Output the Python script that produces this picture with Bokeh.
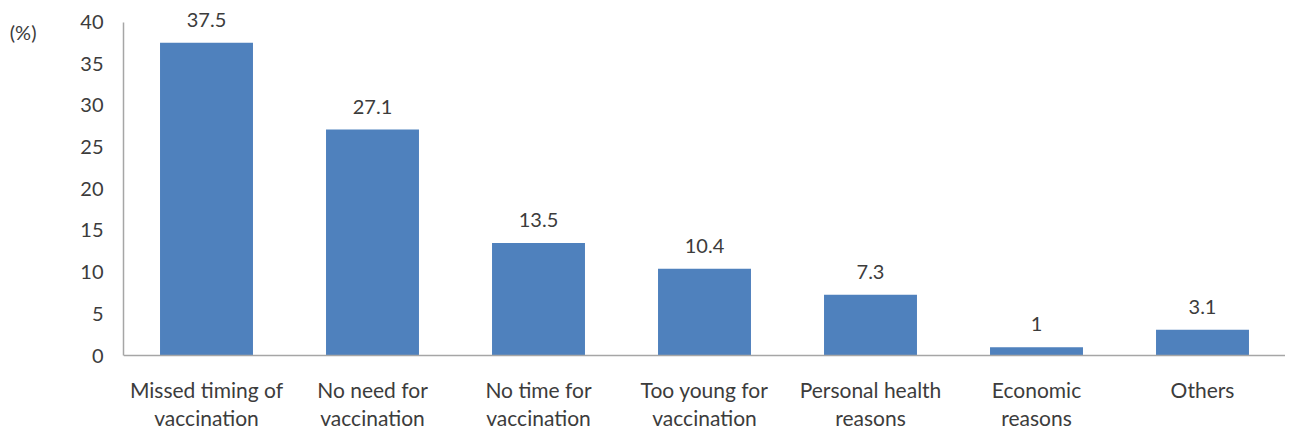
from bokeh.plotting import figure
from bokeh.models import (ColumnDataSource, FixedTicker, LinearAxis, Range1d, Span,
                          CustomJSTickFormatter)
from bokeh.core.properties import value
from bokeh.transform import dodge
from bokeh.embed import file_html
from bokeh.resources import INLINE

categories = ["Missed timing of vaccination", "No need for vaccination", "No time for vaccination",
              "Too young for vaccination", "Personal health reasons", "Economic reasons", "Others"]
label_line1 = ["Missed timing of", "No need for", "No time for", "Too young for",
               "Personal health", "Economic", "Others"]
label_line2 = ["vaccination", "vaccination", "vaccination", "vaccination",
               "reasons", "reasons", ""]
values = [37.5, 27.1, 13.5, 10.4, 7.3, 1, 3.1]
value_labels = ["37.5", "27.1", "13.5", "10.4", "7.3", "1", "3.1"]
y_ticks = [0, 5, 10, 15, 20, 25, 30, 35, 40]
unit_label = "(%)"

FONT = "Lato"
FS = "20px"
TEXT = "#3c3c3c"
AXIS = "#A6A6A6"

W, H = 1285, 430
LEFT = 123
PX_PER_UNIT = 8.3375          # pixels per percentage point
Y_TOP = 40 + 21.5 / PX_PER_UNIT
Y_BOTTOM = -(H - 355) / PX_PER_UNIT

src = ColumnDataSource(dict(cat=categories, val=values, lab=value_labels,
                            l1=label_line1, l2=label_line2))

p = figure(x_range=categories, y_range=Range1d(Y_BOTTOM, Y_TOP), width=W, height=H,
           output_backend="svg", toolbar_location=None,
           min_border_left=LEFT, min_border_right=0, min_border_top=0, min_border_bottom=0,
           x_axis_location=None)
p.outline_line_color = None
p.xgrid.grid_line_color = None
p.ygrid.grid_line_color = None

p.vbar(x="cat", top="val", width=0.56, source=src, fill_color="#4F81BD", line_color=None)

# category axis baseline at 0
p.add_layout(Span(location=0, dimension="width", line_color=AXIS, line_width=1.5))

# value labels above bars
p.text(x="cat", y=dodge("val", 23 / PX_PER_UNIT, range=p.y_range), text="lab", source=src,
       text_align="center", text_baseline="alphabetic", text_font=value(FONT),
       text_font_size=FS, text_color=TEXT)

# two-line category labels under the axis
p.text(x="cat", y=-34 / PX_PER_UNIT, text="l1", source=src, text_align="center",
       text_baseline="alphabetic", text_font=value(FONT), text_font_size="21px", text_color=TEXT)
p.text(x="cat", y=-62 / PX_PER_UNIT, text="l2", source=src, text_align="center",
       text_baseline="alphabetic", text_font=value(FONT), text_font_size="21px", text_color=TEXT)

yax = p.yaxis[0]
yax.ticker = FixedTicker(ticks=y_ticks)
yax.bounds = (0, 40)
yax.major_tick_line_color = None
yax.minor_tick_line_color = None
yax.major_tick_out = 0
yax.major_tick_in = 0
yax.axis_line_color = AXIS
yax.axis_line_width = 1.5
yax.major_label_standoff = 20
yax.major_label_text_font = FONT
yax.major_label_text_font_size = FS
yax.major_label_text_color = TEXT

unit_axis = LinearAxis(ticker=FixedTicker(ticks=[40 - 9.5 / PX_PER_UNIT]),
                       formatter=CustomJSTickFormatter(args=dict(lab=unit_label), code="return lab;"),
                       axis_line_color=None, major_tick_line_color=None, minor_tick_line_color=None,
                       major_tick_out=0, major_tick_in=0, major_label_standoff=41,
                       major_label_text_font=FONT, major_label_text_font_size="20px",
                       major_label_text_color=TEXT)
p.add_layout(unit_axis, "left")

open("out.html", "w").write(file_html(p, INLINE))
